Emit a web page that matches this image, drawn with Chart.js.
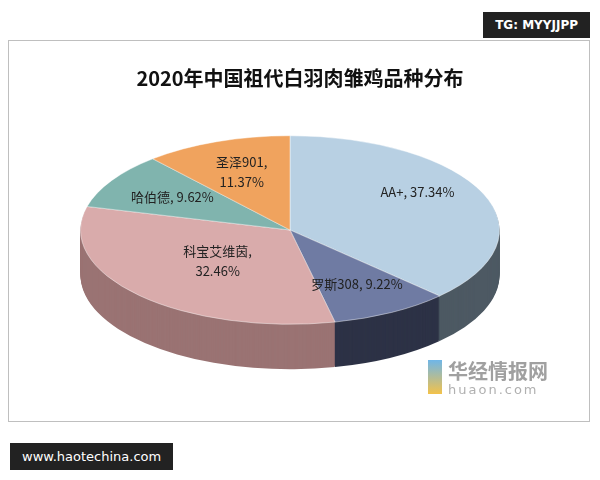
<!DOCTYPE html>
<html><head><meta charset="utf-8">
<script src="https://cdn.jsdelivr.net/npm/chart.js@4/dist/chart.umd.min.js"></script>
<style>
body{margin:0;background:#fff;font-family:"Noto Sans CJK SC",sans-serif;}
#wrap{position:relative;width:600px;height:480px;}
#frame{position:absolute;left:8px;top:40px;width:580px;height:380px;border:1px solid #bfbfbf;}
canvas{position:absolute;left:0;top:0;}
.tag{position:absolute;background:#222;color:#fff;font:bold 12px "DejaVu Sans",sans-serif;padding:6px 12px;}
#logo{position:absolute;left:428px;top:360px;color:#999;}
</style></head><body>
<div id="wrap">
<div id="frame"></div>
<canvas id="c" width="600" height="480"></canvas>
<div class="tag" style="right:10px;top:12px;">TG: MYYJJPP</div>
<div class="tag" style="left:10px;top:443px;font-weight:normal;font-size:13px;">www.haotechina.com</div>
<div id="logo"><div style="display:inline-block;width:14px;height:34px;background:linear-gradient(#6fb6e8,#f3c24a);vertical-align:top;margin-right:6px;"></div><div style="display:inline-block;"><div style="font:bold 20px 'Noto Sans CJK SC';color:#a0a0a0;line-height:22px;">华经情报网</div><div style="font:13px 'DejaVu Sans';color:#b0b0b0;letter-spacing:2px;">huaon.com</div></div></div>
</div>
<script>
const categories = ['AA+', '罗斯308', '科宝艾维茵', '哈伯德', '圣泽901'];
const shares = [37.34, 9.22, 32.46, 9.62, 11.37];
const labelLines = [['AA+, 37.34%'], ['罗斯308, 9.22%'], ['科宝艾维茵,', '32.46%'], ['哈伯德, 9.62%'], ['圣泽901,', '11.37%']];
const topColors = ['#b8d0e3', '#6f7ba3', '#d9abab', '#80b4ae', '#f0a35e'];
const sideColors = ['#4d5963', '#2d3246', '#9a7373', '#4f7570', '#a86a32'];

const SY = 0.45, DEPTH = 45, CY = 230;

const pie3d = {
  id: 'pie3d',
  beforeDatasetsDraw(chart) {
    const ctx = chart.ctx;
    const arcs = chart.getDatasetMeta(0).data;
    for (let d = DEPTH; d > 0; d--) {
      ctx.save();
      ctx.translate(0, CY + d);
      ctx.scale(1, SY);
      ctx.translate(0, -CY);
      arcs.forEach((a, i) => {
        ctx.beginPath();
        ctx.moveTo(a.x, a.y);
        ctx.arc(a.x, a.y, a.outerRadius, a.startAngle, a.endAngle);
        ctx.closePath();
        ctx.fillStyle = sideColors[i];
        ctx.fill();
      });
      ctx.restore();
    }
    ctx.save();
    ctx.translate(0, CY);
    ctx.scale(1, SY);
    ctx.translate(0, -CY);
  },
  afterDatasetsDraw(chart) {
    const ctx = chart.ctx;
    ctx.restore();
    const arcs = chart.getDatasetMeta(0).data;
    ctx.save();
    ctx.fillStyle = '#222';
    ctx.font = '13px "Noto Sans CJK SC"';
    ctx.textAlign = 'center';
    ctx.textBaseline = 'middle';
    arcs.forEach((a, i) => {
      const m = (a.startAngle + a.endAngle) / 2;
      const f = i === 2 ? 0.48 : 0.66;
      const x = a.x + Math.cos(m) * a.outerRadius * f;
      const y = CY + Math.sin(m) * a.outerRadius * f * SY - (i === 0 ? 14 : 0);
      const ls = labelLines[i];
      ls.forEach((t, k) => ctx.fillText(t, x, y + (k - (ls.length - 1) / 2) * 20));
    });
    ctx.fillStyle = '#111';
    ctx.font = 'bold 20px "Noto Sans CJK SC"';
    ctx.fillText('2020年中国祖代白羽肉雏鸡品种分布', 300, 78);
    ctx.restore();
  }
};

new Chart(document.getElementById('c'), {
  type: 'pie',
  data: {
    labels: categories,
    datasets: [{ data: shares, backgroundColor: topColors, borderColor: 'rgba(255,255,255,0.6)', borderWidth: 1 }]
  },
  options: {
    responsive: false,
    animation: false,
    layout: { padding: { left: 80, right: 100, top: 20, bottom: 40 } },
    plugins: { legend: { display: false }, tooltip: { enabled: false } }
  },
  plugins: [pie3d]
});
</script>
</body></html>
